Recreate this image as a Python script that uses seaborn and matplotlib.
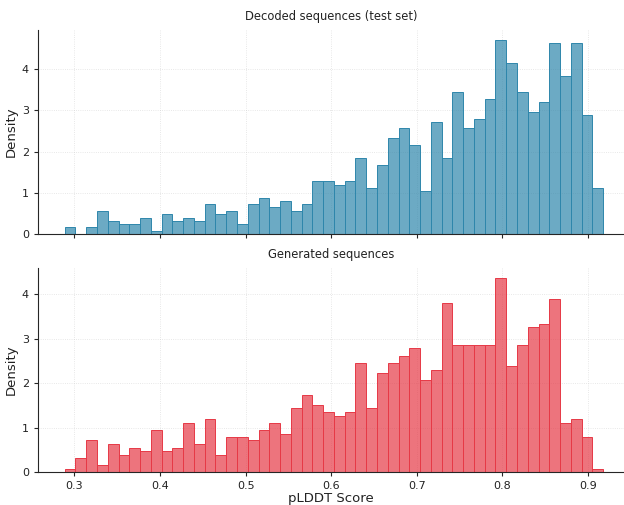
# -*- coding: utf-8 -*-

import numpy as np
import pandas as pd
import matplotlib
matplotlib.use('Agg')
import matplotlib.pyplot as plt
import seaborn as sns


# shared bin range for both panels (50 bins)
BIN_LO = 0.2887
BIN_HI = 0.9177
N_BINS = 50

# density per bin
decoded_density = [0.16, 0.0, 0.16, 0.57, 0.32, 0.24, 0.24, 0.40, 0.08, 0.48,
                   0.32, 0.40, 0.32, 0.73, 0.48, 0.57, 0.24, 0.73, 0.88, 0.65,
                   0.80, 0.57, 0.73, 1.28, 1.28, 1.20, 1.28, 1.84, 1.12, 1.68,
                   2.32, 2.56, 2.16, 1.04, 2.72, 1.84, 3.44, 2.56, 2.80, 3.28,
                   4.71, 4.15, 3.44, 2.96, 3.20, 4.64, 3.84, 4.64, 2.88, 1.12]

generated_density = [0.075, 0.32, 0.71, 0.16, 0.63, 0.39, 0.55, 0.47, 0.95, 0.47,
                     0.55, 1.10, 0.63, 1.19, 0.39, 0.79, 0.79, 0.71, 0.95, 1.10,
                     0.86, 1.43, 1.74, 1.50, 1.34, 1.27, 1.34, 2.45, 1.43, 2.22,
                     2.45, 2.62, 2.78, 2.06, 2.30, 3.81, 2.86, 2.86, 2.86, 2.86,
                     4.37, 2.38, 2.86, 3.26, 3.34, 3.90, 1.10, 1.19, 0.79, 0.075]

titles = ['Decoded sequences (test set)', 'Generated sequences']
colors = ['#2E86AB', '#E63946']


def main():
    edges = np.linspace(BIN_LO, BIN_HI, N_BINS + 1)
    centers = (edges[:-1] + edges[1:]) / 2

    sns.set_style('ticks')
    plt.rcParams['font.family'] = ['DejaVu Sans']

    fig = plt.figure(figsize=(6.24, 5.05), dpi=100)
    ax_top = fig.add_axes([0.0609, 0.5366, 0.9391, 0.404])
    ax_bot = fig.add_axes([0.0609, 0.0653, 0.9391, 0.404])

    for ax, dens, title, col in zip([ax_top, ax_bot],
                                    [decoded_density, generated_density],
                                    titles, colors):
        df = pd.DataFrame({'score': centers, 'density': dens})
        sns.histplot(data=df, x='score', weights='density', bins=N_BINS,
                     binrange=(BIN_LO, BIN_HI), stat='count', color=col,
                     alpha=0.7, edgecolor=col, linewidth=0.7, ax=ax)
        ax.set_title(title, fontsize=8.3, pad=7, color='#222222')
        ax.set_ylabel('Density', fontsize=9.5, labelpad=3, color='#222222')
        ax.set_xlim(0.2575, 0.942)
        ax.set_xticks([0.3, 0.4, 0.5, 0.6, 0.7, 0.8, 0.9])
        ax.set_yticks([0, 1, 2, 3, 4])
        ax.tick_params(labelsize=8, length=3, width=0.8, labelcolor='#222222')
        ax.grid(True, color='#cccccc', linestyle=':', linewidth=0.6, alpha=0.6)
        ax.set_axisbelow(True)
        sns.despine(ax=ax)

    ax_top.set_xlabel('')
    ax_top.set_xticklabels([])
    ax_bot.set_xlabel('pLDDT Score', fontsize=9.5, labelpad=1, color='#222222')
    ax_bot.set_xticklabels(['0.3', '0.4', '0.5', '0.6', '0.7', '0.8', '0.9'])

    fig.savefig('out.png', dpi=100)


if __name__ == '__main__':
    main()
